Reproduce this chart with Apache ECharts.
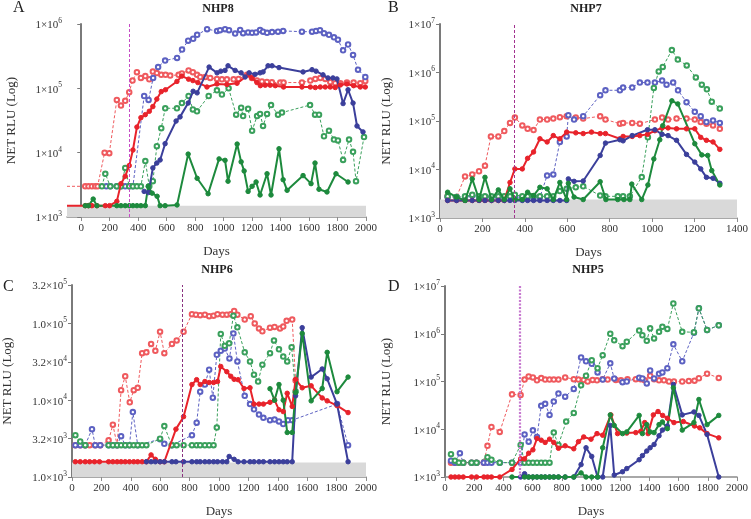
<!DOCTYPE html>
<html><head><meta charset="utf-8">
<script src="https://cdn.jsdelivr.net/npm/echarts@6/dist/echarts.min.js"></script>
<style>html,body{margin:0;padding:0;background:#fff}#c{width:751px;height:519px}</style>
</head><body><div id="c"></div>
<script>
// ---------- Panel A (NHP8) ----------
const A_red_solid = [[-100,1500],[28,1500],[51,1500],[75,1500],[110,1500],[169,1500],[199,1500],[250,1750],[279,3300],[309,4300],[337,6300],[363,11000],[391,25000],[419,35000],[450,39000],[478,44000],[503,52000],[531,68000],[562,89000],[592,95000],[672,128000],[707,155000],[754,139000],[784,132000],[819,123000],[883,105000],[953,117000],[1023,115000],[1094,120000],[1176,163000],[1199,145000],[1234,123000],[1258,110000],[1292,112000],[1327,112000],[1363,110000],[1421,105000],[1550,105000],[1609,105000],[1644,103000],[1679,105000],[1714,105000],[1749,105000],[1784,103000],[1820,113000],[1866,117000],[1913,110000],[1960,105000],[1995,105000]];
const A_red_dashed = [[-100,3000],[28,3000],[51,3000],[75,3000],[98,3000],[115,3000],[164,10000],[197,9800],[250,66000],[279,54000],[309,64000],[337,87000],[360,132000],[391,178000],[419,145000],[450,155000],[478,138000],[503,182000],[531,173000],[562,162000],[592,162000],[625,158000],[684,162000],[707,170000],[754,190000],[784,178000],[813,162000],[836,150000],[871,150000],[906,145000],[953,140000],[988,138000],[1023,138000],[1070,138000],[1105,140000],[1164,162000],[1199,145000],[1234,132000],[1269,128000],[1304,126000],[1339,124000],[1398,123000],[1421,123000],[1550,123000],[1609,132000],[1644,140000],[1679,145000],[1714,140000],[1749,125000],[1784,120000],[1820,120000],[1866,123000],[1913,123000],[1960,120000],[1995,130000]];
const A_blue_dashed = [[176,3000],[204,3000],[250,3000],[279,3000],[309,3000],[337,3000],[363,3000],[442,76000],[473,66000],[505,145000],[540,214000],[589,270000],[673,297000],[708,400000],[751,550000],[786,590000],[814,680000],[884,830000],[954,780000],[975,800000],[1010,830000],[1038,800000],[1081,710000],[1116,810000],[1137,720000],[1172,740000],[1200,730000],[1228,740000],[1256,810000],[1277,760000],[1305,730000],[1340,750000],[1382,760000],[1418,780000],[1550,760000],[1621,760000],[1649,780000],[1677,800000],[1705,720000],[1740,680000],[1775,620000],[1803,570000],[1839,390000],[1874,480000],[1909,330000],[1944,195000],[1995,150000]];
const A_blue_solid = [[442,2500],[473,2400],[503,5800],[531,6900],[554,7700],[589,13800],[666,31000],[694,36000],[751,59000],[786,90000],[814,85000],[898,214000],[954,174000],[980,185000],[1010,190000],[1031,224000],[1081,190000],[1123,174000],[1151,150000],[1179,174000],[1221,165000],[1256,174000],[1277,180000],[1312,224000],[1340,224000],[1389,210000],[1558,180000],[1621,195000],[1649,185000],[1698,162000],[1733,145000],[1768,145000],[1796,140000],[1839,58000],[1874,95000],[1909,59000],[1937,26000],[1979,21000]];
const A_green_solid = [[28,1500],[51,1500],[84,1900],[110,1500],[250,1500],[279,1500],[309,1500],[337,1500],[363,1500],[391,1500],[419,1500],[450,1500],[470,3000],[498,2350],[533,2100],[554,1500],[589,1500],[673,1540],[751,9500],[814,4000],[891,2300],[968,8000],[1010,7600],[1031,3600],[1095,13600],[1123,7200],[1144,5200],[1172,2500],[1200,3000],[1228,3500],[1256,2200],[1305,4700],[1333,2200],[1389,11500],[1418,3800],[1446,2600],[1558,4400],[1614,3300],[1642,6900],[1670,2700],[1726,2450],[1789,4700],[1874,3500]];
const A_green_dashed = [[145,3000],[169,4700],[204,3000],[250,3000],[279,3000],[309,5800],[337,3000],[363,3000],[391,3000],[419,3000],[450,7400],[478,3000],[503,3600],[531,12600],[562,24000],[590,49000],[672,49000],[707,59000],[754,76000],[784,47000],[813,44000],[895,76000],[953,93000],[988,80000],[1035,100000],[1088,39000],[1123,50000],[1137,37000],[1172,48000],[1200,22000],[1235,37000],[1256,40000],[1277,26000],[1305,40000],[1333,55000],[1382,39000],[1410,42000],[1607,55000],[1642,39000],[1670,39000],[1705,18000],[1740,22000],[1775,16000],[1803,15500],[1839,7700],[1881,16000],[1909,10300],[1930,3600],[1986,17500]];

// ---------- Panel B (NHP7) ----------
const B_red_solid = [[36,2300],[78,2300],[118,2300],[152,2300],[184,2300],[212,2300],[243,2300],[275,2300],[303,2300],[330,5400],[353,10300],[388,10300],[413,17000],[441,23000],[471,43000],[505,37000],[534,50000],[565,43000],[597,59000],[640,57000],[675,55000],[714,59000],[755,55000],[780,55000],[848,43000],[863,48000],[906,48000],[942,50000],[978,53000],[1013,63000],[1047,72000],[1075,72000],[1115,69000],[1162,69000],[1201,69000],[1229,46000],[1256,40000],[1287,37000],[1319,26000]];
const B_red_dashed = [[36,2800],[78,2700],[118,7200],[152,7900],[184,9200],[212,12000],[240,48000],[275,48000],[303,62000],[330,91000],[353,118000],[388,81000],[413,69000],[441,65000],[471,107000],[505,107000],[534,112000],[565,120000],[597,126000],[640,118000],[675,112000],[755,125000],[780,107000],[848,88000],[863,91000],[906,91000],[942,88000],[1013,107000],[1047,118000],[1075,107000],[1115,112000],[1162,112000],[1201,107000],[1229,95000],[1256,88000],[1287,81000],[1319,69000]];
const B_blue_dashed = [[36,2700],[78,2700],[118,2700],[152,2900],[184,2700],[212,2700],[243,2700],[275,2700],[303,2700],[353,2700],[388,2700],[413,2700],[441,2700],[471,2700],[505,7500],[534,7900],[565,37000],[597,48000],[605,132000],[632,107000],[675,126000],[755,340000],[780,430000],[848,430000],[863,490000],[906,490000],[942,620000],[978,620000],[1013,620000],[1047,680000],[1068,560000],[1099,620000],[1122,430000],[1162,245000],[1201,155000],[1229,126000],[1256,95000],[1287,103000],[1319,91000]];
const B_blue_solid = [[36,2300],[78,2300],[118,2300],[152,2300],[184,2300],[212,2300],[243,2300],[275,2300],[303,2300],[330,2300],[353,2300],[388,2300],[413,2300],[441,2300],[471,2300],[505,2300],[534,2300],[565,2300],[597,2300],[605,6400],[632,5700],[675,5800],[755,19500],[780,35000],[848,41000],[863,39000],[906,50000],[978,66000],[1013,66000],[1047,53000],[1075,50000],[1115,40000],[1162,20500],[1201,14200],[1229,10300],[1256,6900],[1287,6600],[1319,5200]];
const B_green_solid = [[36,3400],[78,2700],[118,2300],[152,6400],[184,2400],[212,6900],[243,2400],[275,3800],[303,2400],[330,4000],[353,2400],[388,2400],[413,3400],[441,2900],[471,4300],[505,4000],[534,2400],[565,5400],[597,2400],[605,5200],[632,2700],[675,2400],[755,5600],[782,2400],[838,2400],[867,2400],[895,2400],[904,5000],[951,2400],[980,4800],[1008,16500],[1036,41000],[1050,80000],[1093,260000],[1121,225000],[1201,34000],[1234,20000],[1262,19500],[1281,9500],[1319,4800]];
const B_green_dashed = [[36,2800],[78,2700],[118,2800],[152,3000],[184,2800],[212,2800],[243,2800],[275,2800],[303,2800],[330,2800],[353,3000],[388,2800],[413,2800],[441,2800],[471,2800],[505,2800],[534,2800],[565,3600],[597,4000],[640,4300],[675,4500],[755,2900],[780,2800],[838,2800],[863,2800],[895,2800],[951,7000],[980,46000],[1008,480000],[1031,1050000],[1050,1300000],[1093,2900000],[1121,1850000],[1163,1400000],[1206,790000],[1234,560000],[1258,450000],[1281,250000],[1319,180000]];

// ---------- Panel C (NHP6) ----------
const C_red_dashed = [[23,2600],[56,2600],[90,2600],[120,2600],[158,2600],[192,2600],[249,3000],[278,4800],[307,2600],[334,13500],[362,20500],[393,9400],[420,13500],[447,14500],[477,41000],[506,42000],[538,54000],[567,44000],[599,78000],[628,41000],[680,54000],[712,60000],[759,78000],[816,132000],[843,130000],[872,128000],[904,130000],[933,124000],[963,126000],[990,132000],[1024,130000],[1053,130000],[1080,132000],[1103,145000],[1125,130000],[1175,112000],[1216,124000],[1243,100000],[1272,86000],[1295,79000],[1347,88000],[1378,90000],[1415,86000],[1437,91000],[1460,108000],[1498,112000],[1521,18000]];
const C_red_solid = [[23,1580],[56,1580],[90,1580],[120,1580],[153,1580],[187,1580],[249,1580],[278,1580],[307,1580],[334,1580],[362,1580],[391,1580],[420,1580],[447,1580],[477,1580],[506,1580],[538,1940],[567,1700],[599,1580],[628,1580],[707,4200],[759,6100],[816,16000],[848,18500],[872,16000],[904,17500],[933,17000],[963,17000],[990,17500],[1012,27500],[1053,23500],[1080,20500],[1103,18700],[1130,18500],[1170,14200],[1211,14500],[1238,8900],[1272,8900],[1302,8900],[1347,9400],[1378,10000],[1408,7500],[1437,7100],[1464,12300],[1498,8300],[1521,18700],[1566,14500],[1627,15400],[1702,10700],[1736,9800],[1803,8500],[1878,6900]];
const C_blue_solid = [[506,1580],[538,1580],[567,1580],[599,1580],[628,1580],[680,1580],[707,1580],[759,1580],[816,1580],[848,1580],[872,1580],[904,1580],[933,1580],[963,1580],[990,1580],[1024,1580],[1053,1580],[1069,1850],[1103,1700],[1130,1580],[1170,1580],[1211,1580],[1238,1580],[1272,1580],[1302,1580],[1347,1580],[1378,1580],[1408,1580],[1437,1580],[1464,1580],[1498,1580],[1521,11400],[1566,88000],[1627,20000],[1702,25500],[1736,19000],[1803,8900],[1878,1580]];
const C_blue_dashed = [[23,2600],[56,2600],[90,2600],[136,4200],[158,2600],[192,2600],[249,2600],[278,2600],[307,2600],[334,3400],[362,2600],[391,2600],[414,7000],[447,2600],[599,3100],[628,2700],[680,2600],[816,3500],[848,5100],[872,12900],[904,16000],[933,25000],[958,10800],[985,39000],[1012,44000],[1039,47000],[1071,35000],[1098,74000],[1125,32000],[1175,11400],[1211,8900],[1238,7600],[1272,6500],[1302,5900],[1347,5500],[1378,5600],[1408,5300],[1437,4900],[1469,5500],[1498,5500],[1803,8900],[1878,2600]];
const C_green_dashed = [[23,3500],[56,2900],[90,2600],[249,2600],[278,2600],[307,2600],[334,2600],[362,2600],[391,2600],[420,2600],[447,2600],[477,2600],[506,2600],[599,3150],[628,4600],[678,2600],[712,2600],[759,2600],[816,2600],[848,2600],[872,2600],[904,2600],[933,2600],[963,2600],[985,4400],[1012,73000],[1039,51000],[1069,55000],[1098,126000],[1125,89000],[1175,42000],[1211,32000],[1238,21500],[1266,17500],[1295,29000],[1347,41000],[1374,60000],[1408,46000],[1437,37000],[1464,32000],[1494,49000],[1521,13000]];
const C_green_solid = [[1347,14100],[1378,10000],[1408,16000],[1437,10000],[1464,3800],[1498,3800],[1521,12600],[1566,74000],[1627,9800],[1702,14200],[1736,42000],[1803,12900],[1878,20000]];

// ---------- Panel D (NHP5) ----------
const D_red_dashed = [[41,2000],[68,2000],[95,2000],[125,2000],[182,2000],[216,2000],[266,2000],[291,4500],[318,11200],[375,8800],[459,54000],[518,52000],[545,110000],[573,128000],[602,122000],[630,106000],[659,118000],[686,110000],[716,110000],[745,110000],[777,110000],[823,122000],[882,112000],[914,110000],[950,108000],[977,100000],[1011,108000],[1041,106000],[1080,112000],[1114,110000],[1170,108000],[1205,106000],[1250,112000],[1307,112000],[1341,112000],[1368,106000],[1405,132000],[1432,112000],[1466,106000],[1500,106000],[1534,100000],[1568,100000],[1625,100000],[1670,102000],[1709,104000],[1739,117000],[1795,146000],[1875,119000]];
const D_red_solid = [[41,1000],[68,1000],[95,1000],[125,1000],[182,1000],[216,1000],[266,1000],[291,1000],[318,1000],[375,1000],[459,1440],[518,2400],[545,2400],[573,3150],[602,3700],[630,6400],[659,5900],[686,5300],[716,6200],[745,5300],[777,4000],[823,4500],[882,3900],[914,5500],[950,6900],[1000,6200],[1041,8100],[1080,7500],[1136,20000],[1182,8100],[1245,8300],[1307,8500],[1341,9100],[1368,13800],[1391,8100],[1427,20000],[1459,23500],[1491,19500],[1523,17000],[1568,13800],[1632,14500],[1709,11700],[1745,10700],[1795,8100],[1875,6600]];
const D_blue_dashed = [[41,2200],[68,2000],[102,3150],[125,2000],[182,2000],[216,2000],[266,2000],[291,2000],[318,2000],[375,2000],[459,2000],[518,2000],[545,7800],[573,5500],[602,9500],[630,6900],[659,31000],[686,34000],[716,20000],[745,38000],[777,56000],[823,48000],[882,70000],[932,320000],[966,265000],[1005,235000],[1045,155000],[1080,110000],[1132,240000],[1159,115000],[1216,97000],[1245,100000],[1330,120000],[1352,116000],[1382,91000],[1405,170000],[1432,116000],[1466,145000],[1489,155000],[1523,190000],[1564,600000],[1625,265000],[1705,1050000],[1739,3400000],[1795,1200000],[1875,1500000]];
const D_green_dashed = [[41,3000],[68,2200],[95,2000],[125,2000],[182,2000],[216,2000],[291,2600],[318,2300],[375,2000],[459,2000],[518,4700],[545,2000],[573,2000],[602,2000],[630,2000],[659,2000],[686,2000],[716,2000],[745,8500],[777,4700],[830,14500],[882,22000],[932,83000],[966,132000],[1005,280000],[1045,190000],[1080,355000],[1132,1000000],[1159,730000],[1216,550000],[1245,680000],[1330,1170000],[1352,930000],[1382,710000],[1405,1300000],[1432,800000],[1466,1100000],[1489,1400000],[1523,1260000],[1564,4300000],[1625,1100000],[1705,1070000],[1739,3400000],[1795,1200000],[1875,1500000]];
const D_blue_solid = [[518,1000],[545,1170],[573,1000],[602,1000],[630,1000],[659,1000],[686,1000],[716,1000],[745,1000],[777,1000],[823,1000],[882,1000],[932,1820],[966,4100],[1005,2700],[1045,1000],[1080,1000],[1132,12000],[1159,1100],[1216,1290],[1245,1500],[1330,2300],[1352,2800],[1382,3500],[1405,4100],[1432,4800],[1466,7300],[1489,9600],[1523,11700],[1564,87000],[1625,20000],[1705,23000],[1739,19500],[1795,7800],[1875,1000]];
const D_green_solid = [[459,1000],[545,1000],[573,1000],[602,1000],[630,1000],[659,1000],[686,1000],[716,1000],[745,1000],[777,1000],[823,1000],[882,1000],[932,1220],[966,1000],[1005,1000],[1045,1000],[1080,4100],[1132,20000],[1159,12000],[1216,8100],[1245,8800],[1330,19500],[1352,8100],[1382,12500],[1405,8800],[1432,8500],[1466,12500],[1489,14200],[1523,10300],[1564,74000],[1625,9600],[1705,13800],[1739,42000],[1795,12500],[1875,19500]];

// ---------- panel meta ----------
const titles = ['NHP8','NHP7','NHP6','NHP5'];
const letters = ['A','B','C','D'];
const vlineDays = [335, 352, 748, 512];
const bandTops = [1500, 2400, 1550, null];
const xMins = [-100, 0, 0, 0];
const xMaxs = [2000, 1400, 2000, 2000];
const xTickValsA = [0,200,400,600,800,1000,1200,1400,1600,1800,2000];
const yMins = [1000, 1000, 1000, 1000];
const yMaxs = [1e6, 1e7, 316227.766, 1e7];
const yLogIntervals = [1, 1, 0.5, 1];

const FONT = 'Liberation Serif';
const COL = {
  red: '#e8232b', redD: '#ef5a5e',
  blue: '#3b3f9b', blueD: '#5c61c2',
  green: '#1d8a3d', greenD: '#3aa05c'
};
const grids = [
  {left: 67, top: 24, width: 299, height: 193},
  {left: 440, top: 24, width: 297, height: 194},
  {left: 71, top: 285, width: 295, height: 198},
  {left: 445, top: 286, width: 293, height: 195}
];
const nameGapsY = [49, 47, 58, 52];
const vlineStyles = [
  {color: '#c64bc6', width: 1, type: [3,2]},
  {color: '#a2318f', width: 1, type: [3,2]},
  {color: '#8a3280', width: 1, type: [3,2]},
  {color: '#c77ad0', width: 2.2, type: [2,1.5]}
];

function mk(gi, data, color, dashed) {
  return {
    type: 'line', xAxisIndex: gi, yAxisIndex: gi,
    data: data.map(p => p[0] < 0 ? {value: p, symbol: 'none'} : p),
    symbol: dashed ? 'emptyCircle' : 'circle',
    symbolSize: dashed ? 4.5 : 4.5,
    showSymbol: true,
    lineStyle: {color: color, width: dashed ? 1 : 2, type: dashed ? [3, 2] : 'solid'},
    itemStyle: {color: color, borderColor: color, borderWidth: 1},
    z: dashed ? 3 : 4,
    animation: false, silent: true
  };
}

const panels = [
  [A_red_dashed, A_blue_dashed, A_green_dashed, A_red_solid, A_blue_solid, A_green_solid],
  [B_red_dashed, B_blue_dashed, B_green_dashed, B_red_solid, B_blue_solid, B_green_solid],
  [C_red_dashed, C_blue_dashed, C_green_dashed, C_red_solid, C_blue_solid, C_green_solid],
  [D_red_dashed, D_blue_dashed, D_green_dashed, D_red_solid, D_blue_solid, D_green_solid]
];
const cols = [COL.redD, COL.blueD, COL.greenD, COL.red, COL.blue, COL.green];

const series = [];
const xAxes = [], yAxes = [];
for (let g = 0; g < 4; g++) {
  const helper = {
    type: 'line', xAxisIndex: g, yAxisIndex: g, data: [], z: 1, silent: true, animation: false,
    markLine: {
      silent: true, symbol: ['none','none'], animation: false,
      label: {show: false},
      lineStyle: vlineStyles[g],
      data: [{xAxis: vlineDays[g]}]
    }
  };
  if (bandTops[g]) {
    helper.markArea = {
      silent: true, animation: false,
      itemStyle: {color: '#d9d9d9'},
      data: [[{yAxis: yMins[g], xAxis: xMins[g]}, {yAxis: bandTops[g], xAxis: xMaxs[g]}]]
    };
  }
  series.push(helper);
  panels[g].forEach((d, i) => series.push(mk(g, d, cols[i], i < 3)));

  const xa = {
    type: 'value', gridIndex: g, min: xMins[g], max: xMaxs[g],
    name: 'Days', nameLocation: 'middle', nameGap: 28,
    nameTextStyle: {fontFamily: FONT, fontSize: 13, color: '#333'},
    axisLine: {show: true, onZero: false, lineStyle: {color: '#8c8c8c', width: 1.5}},
    axisTick: {show: true, length: 4, lineStyle: {color: '#8c8c8c'}},
    splitLine: {show: false},
    axisLabel: {fontFamily: FONT, fontSize: 11, color: '#333', margin: 6, formatter: v => String(v)}
  };
  if (g === 0) {
    xa.axisLabel.customValues = xTickValsA;
    xa.axisTick.customValues = xTickValsA;
  } else {
    xa.interval = 200;
  }
  xAxes.push(xa);

  const isC = g === 2;
  yAxes.push({
    type: 'log', logBase: 10, gridIndex: g, min: yMins[g], max: yMaxs[g], interval: yLogIntervals[g],
    name: 'NET RLU (Log)', nameLocation: 'middle', nameGap: nameGapsY[g], nameRotate: 90,
    nameTextStyle: {fontFamily: FONT, fontSize: 13, color: '#333'},
    axisLine: {show: true, lineStyle: {color: '#7a7a7a', width: 2}},
    axisTick: {show: true, length: 4, lineStyle: {color: '#7a7a7a'}},
    splitLine: {show: false},
    axisLabel: {
      margin: 5,
      formatter: function (v) {
        const e = Math.log10(v);
        if (isC) {
          const ex = Math.floor(e + 1e-6);
          const m = Math.pow(10, e - ex);
          return '{b|' + m.toFixed(1) + '×10}{s|' + ex + '}';
        }
        return '{b|1×10}{s|' + Math.round(e) + '}';
      },
      rich: {
        b: {fontFamily: FONT, fontSize: 11, color: '#333', lineHeight: 14, verticalAlign: 'bottom'},
        s: {fontFamily: FONT, fontSize: 7.5, color: '#333', lineHeight: 9, verticalAlign: 'top'}
      }
    }
  });
}

const titlePos = [[218, 9], [586, 9], [217, 270], [588, 270]];
const letterPos = [[13, 8], [388, 8], [3, 287], [388, 287]];
const graphic = [];
for (let g = 0; g < 4; g++) {
  graphic.push({type: 'text', x: titlePos[g][0], y: titlePos[g][1], style: {text: titles[g], font: 'bold 12px "' + FONT + '"', fill: '#222', textAlign: 'center', textVerticalAlign: 'middle'}});
  graphic.push({type: 'text', x: letterPos[g][0], y: letterPos[g][1], style: {text: letters[g], font: '16px "' + FONT + '"', fill: '#222', textAlign: 'left', textVerticalAlign: 'middle'}});
}

const chart = echarts.init(document.getElementById('c'), null, {renderer: 'canvas'});
chart.setOption({
  animation: false,
  backgroundColor: '#fff',
  grid: grids,
  xAxis: xAxes,
  yAxis: yAxes,
  series: series,
  graphic: graphic
});
</script></body></html>
